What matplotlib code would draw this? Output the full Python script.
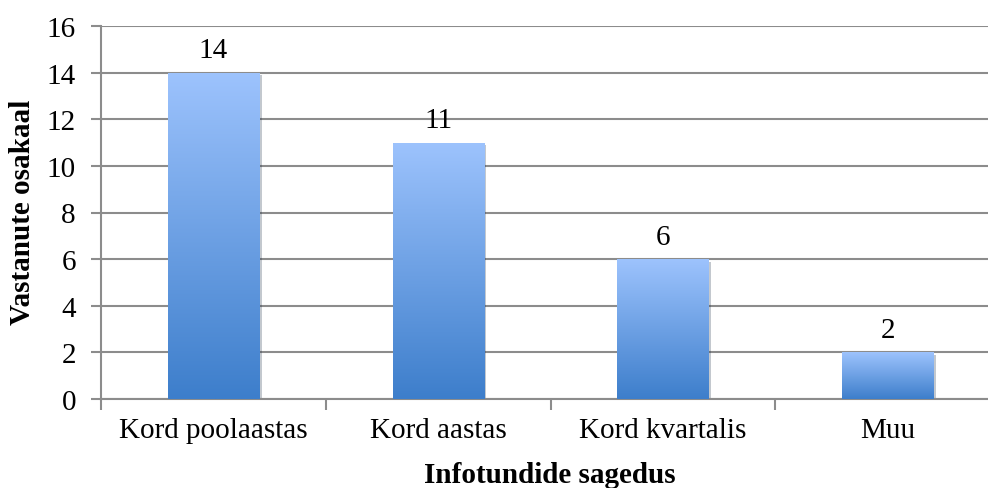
import numpy as np
import matplotlib
matplotlib.use("Agg")
import matplotlib.pyplot as plt
from matplotlib.colors import LinearSegmentedColormap
from matplotlib.patches import Rectangle
import matplotlib.patheffects as pe

categories = ["Kord poolaastas", "Kord aastas", "Kord kvartalis", "Muu"]
counts = [14, 11, 6, 2]
yticks = [0, 2, 4, 6, 8, 10, 12, 14, 16]

plt.rcParams['font.family'] = ['Liberation Serif', 'DejaVu Serif']

grid_col = '#8c8c8c'
bar_cmap = LinearSegmentedColormap.from_list('bar', ['#3d7ecb', '#9dc3fd'])
bar_w = 0.405
fs = 21

fig = plt.figure(figsize=(9.88, 4.89), dpi=100)
ax = fig.add_axes([101 / 988, 89 / 489, 899 / 988, 373 / 489])

ax.set_yticks(yticks)
ax.yaxis.grid(True, color=grid_col, linewidth=1.5, zorder=0)
ax.set_axisbelow(True)

for s in ['top', 'right']:
    ax.spines[s].set_visible(False)
for s in ['left', 'bottom']:
    ax.spines[s].set_color(grid_col)
    ax.spines[s].set_linewidth(1.5)

ax.tick_params(axis='y', direction='out', length=7, width=1.5, color=grid_col,
               labelsize=fs, pad=11)
ax.set_xticks(range(len(categories)))
ax.set_xticklabels(categories)
ax.tick_params(axis='x', which='major', length=0, labelsize=fs, pad=13)
ax.set_xticks(np.arange(-0.5, len(categories), 1.0), minor=True)
ax.tick_params(axis='x', which='minor', direction='out', length=8, width=1.5,
               color=grid_col)

# gradient bars: dark blue at the base fading to light blue at the top
grad = np.linspace(0, 1, 256).reshape(-1, 1)
for i, v in enumerate(counts):
    x0 = i - bar_w / 2
    rect = Rectangle((x0, 0), bar_w, v, facecolor='#3d7ecb', edgecolor='none',
                     zorder=2,
                     path_effects=[pe.SimplePatchShadow(offset=(2, -2), alpha=0.25),
                                   pe.Normal()])
    ax.add_patch(rect)
    im = ax.imshow(grad, cmap=bar_cmap, origin='lower', aspect='auto',
                   extent=(x0, x0 + bar_w, 0, v), zorder=3)
    im.set_clip_path(rect)
    ax.annotate(str(v), (i, v), xytext=(0, 11), textcoords='offset points',
                ha='center', va='baseline', fontsize=fs)

ax.set_xlim(-0.5, len(categories) - 0.5)
ax.set_ylim(0, 16)

fig.text(23 / 988, (489 - 212) / 489, 'Vastanute osakaal', fontsize=fs,
         fontweight='bold', rotation=90, ha='center', va='center')
fig.text(550 / 988, 6 / 489, 'Infotundide sagedus', fontsize=fs,
         fontweight='bold', ha='center', va='baseline')

fig.savefig('out.png', dpi=100)
